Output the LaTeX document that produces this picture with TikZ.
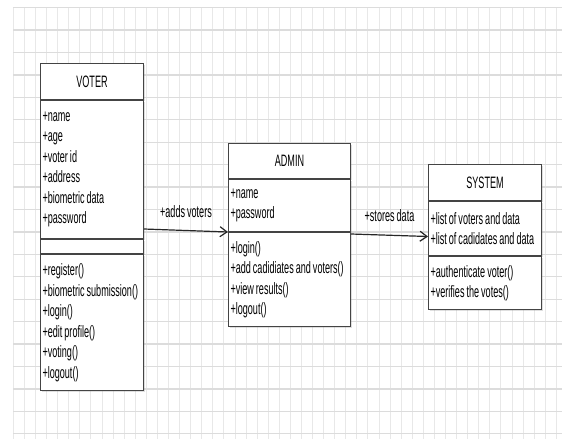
\documentclass[tikz,border=0pt]{standalone}
\usepackage{fontspec}
\setmainfont[FakeStretch=0.55, WordSpace=0.8]{Liberation Sans}
\usetikzlibrary{arrows.meta,shadows}

\definecolor{boxline}{HTML}{444444}
\definecolor{gridmajor}{HTML}{DCDCDC}
\definecolor{gridminor}{HTML}{E8E8E8}

\tikzset{
  classbox/.style={draw=boxline, fill=white, line width=1pt, anchor=north west,
    inner xsep=2pt, inner ysep=0pt, align=flush left,
    font=\fontsize{16.5pt}{20.5pt}\selectfont,
    drop shadow={opacity=0.25, shadow xshift=1.5pt, shadow yshift=-1.5pt}},
  classtitle/.style={classbox, align=flush center},
  assoc/.style={->, draw=black!85, line width=1.2pt},
  assoclabel/.style={font=\fontsize{16.5pt}{18pt}\selectfont, inner sep=1pt}
}

\begin{document}
\begin{tikzpicture}[x=1pt, y=-1pt, >={Straight Barb[length=7pt, width=10pt]}]
    \useasboundingbox[fill=white] (0, 0) rectangle (562, 439);
    % grid
    \foreach \i in {0,...,49}
      \draw[gridminor, line width=0.8pt] (13.3 + 11.08*\i, 7.6) -- (13.3 + 11.08*\i, 439);
    \foreach \j in {0,...,19}
      \draw[gridmajor, line width=1.3pt] (13.3, 7.6 + 22.43*\j) -- (562, 7.6 + 22.43*\j);
    % VOTER
    \node[classtitle, text width=99pt, minimum height=36pt] (Voter) at (40, 63) {VOTER};
    \node[classbox, text width=99pt, minimum height=138pt] (Voter Attr) at (Voter.south west)
      {+name\\+age\\+voter id\\+address\\+biometric data\\+password};
    \node[classbox, text width=99pt, minimum height=14pt] (Voter Gap) at (Voter Attr.south west) {};
    \node[classbox, text width=99pt, minimum height=136pt] (Voter Ops) at (Voter Gap.south west)
      {+register()\\+biometric submission()\\+login()\\+edit profile()\\+voting()\\+logout()};
    % ADMIN
    \node[classtitle, text width=118pt, minimum height=35pt] (Admin) at (228, 143) {ADMIN};
    \node[classbox, text width=118pt, minimum height=52pt] (Admin Attr) at (Admin.south west)
      {+name\\+password};
    \node[classbox, text width=118pt, minimum height=94pt] (Admin Ops) at (Admin Attr.south west)
      {+login()\\+add cadidiates and voters()\\+view results()\\+logout()};
    % SYSTEM
    \node[classtitle, text width=109pt, minimum height=36pt] (System) at (428, 164) {SYSTEM};
    \node[classbox, text width=109pt, minimum height=54pt] (System Attr) at (System.south west)
      {+list of voters and data\\+list of cadidates and data};
    \node[classbox, text width=109pt, minimum height=53pt] (System Ops) at (System Attr.south west)
      {+authenticate voter()\\+verifies the votes()};
    % associations
    \draw[assoc] ([yshift=10pt]Voter Attr.south east) -- (Admin Attr.south west)
      node[assoclabel, midway, above=11pt] (Adds Voters) {+adds voters};
    \draw[assoc] ([yshift=-2pt]Admin Ops.north east) -- ([yshift=-8pt]System Attr.west)
      node[assoclabel, midway, above=12pt] (Stores Data) {+stores data};
  \end{tikzpicture}
\end{document}
